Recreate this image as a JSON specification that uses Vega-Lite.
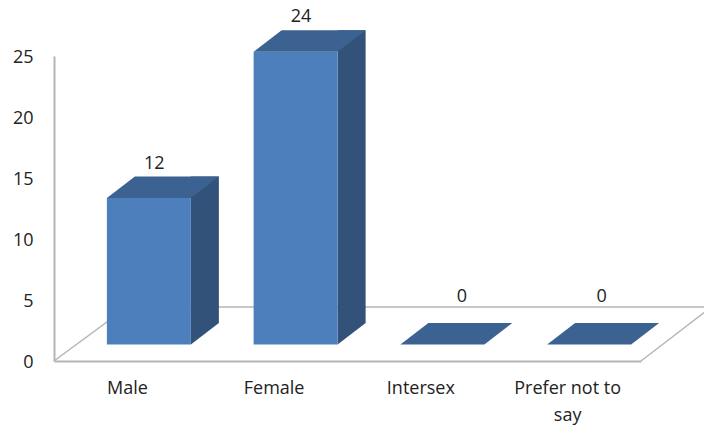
{
  "$schema": "https://vega.github.io/schema/vega-lite/v6.json",
  "width": 587,
  "height": 305,
  "autosize": {"type": "none"},
  "padding": {"left": 54, "top": 56, "right": 63, "bottom": 68},
  "background": "white",
  "view": {"stroke": null},
  "data": {
    "values": [
      {"category": "Male", "count": 12},
      {"category": "Female", "count": 24},
      {"category": "Intersex", "count": 0},
      {"category": "Prefer not to say", "count": 0}
    ]
  },
  "encoding": {
    "x": {
      "field": "category",
      "type": "nominal",
      "sort": null,
      "title": null,
      "scale": {"type": "band", "paddingInner": 0, "paddingOuter": 0},
      "axis": {
        "labelAngle": 0,
        "ticks": false,
        "domainColor": "#B5B5B5",
        "domainWidth": 2,
        "labelFont": "Open Sans",
        "labelFontSize": 18,
        "labelColor": "#222222",
        "labelPadding": 18,
        "labelLineHeight": 27,
        "labelBaseline": "top",
        "labelLimit": 0,
        "labelExpr": "datum.label == 'Prefer not to say' ? ['Prefer not to', 'say'] : datum.label"
      }
    }
  },
  "layer": [
    {
      "description": "Chart floor drawn behind the columns",
      "transform": [{"filter": "datum.category == 'Male'"}],
      "mark": {
        "type": "point",
        "shape": "M-73.4,0L0,-54L584,-54L513.6,0",
        "size": 4,
        "filled": false,
        "opacity": 1,
        "stroke": "#B5B5B5",
        "strokeWidth": 1.5
      },
      "encoding": {
        "y": {
          "datum": 0,
          "type": "quantitative",
          "title": null,
          "scale": {"domain": [0, 25], "nice": false},
          "axis": {
            "values": [0, 5, 10, 15, 20, 25],
            "ticks": false,
            "grid": false,
            "title": null,
            "domainColor": "#B5B5B5",
            "domainWidth": 2,
            "labelFont": "Open Sans",
            "labelFontSize": 18,
            "labelColor": "#222222",
            "labelPadding": 21,
            "labelOffset": 1
          }
        }
      }
    },
    {
      "description": "Bottom corner of the side faces",
      "transform": [{"filter": "datum.count > 0"}],
      "mark": {
        "type": "point",
        "shape": "M42,0L70,-21.5L42,-21.5Z",
        "size": 4,
        "filled": true,
        "opacity": 1,
        "color": "#325279",
        "xOffset": 21.5,
        "yOffset": -16.5
      },
      "encoding": {"y": {"datum": 0, "type": "quantitative", "title": null}}
    },
    {
      "description": "Side faces",
      "transform": [{"filter": "datum.count > 0"}],
      "mark": {
        "type": "bar",
        "width": 28,
        "color": "#325279",
        "xOffset": 77.5,
        "yOffset": -38,
        "y2Offset": -38
      },
      "encoding": {
        "y": {"field": "count", "type": "quantitative", "title": null},
        "y2": {"datum": 0}
      }
    },
    {
      "description": "Front faces",
      "transform": [{"filter": "datum.count > 0"}],
      "mark": {
        "type": "bar",
        "width": 84,
        "color": "#4D7FBC",
        "xOffset": 21.5,
        "yOffset": -16.5,
        "y2Offset": -16.5
      },
      "encoding": {
        "y": {"field": "count", "type": "quantitative", "title": null},
        "y2": {"datum": 0}
      }
    },
    {
      "description": "Top faces",
      "mark": {
        "type": "point",
        "shape": "M-42,0L42,0L70,-21.5L-14,-21.5Z",
        "size": 4,
        "filled": true,
        "opacity": 1,
        "color": "#3C6291",
        "xOffset": 21.5,
        "yOffset": -16.5
      },
      "encoding": {"y": {"field": "count", "type": "quantitative", "title": null}}
    },
    {
      "description": "Value labels on the non-zero columns",
      "transform": [{"filter": "datum.count > 0"}],
      "mark": {
        "type": "text",
        "font": "Open Sans",
        "fontSize": 18,
        "color": "#222222",
        "dx": 27,
        "dy": -51
      },
      "encoding": {
        "y": {"field": "count", "type": "quantitative", "title": null},
        "text": {"field": "count", "type": "quantitative"}
      }
    },
    {
      "description": "Value label for Intersex",
      "transform": [{"filter": "datum.category == 'Intersex'"}],
      "mark": {
        "type": "text",
        "font": "Open Sans",
        "fontSize": 18,
        "color": "#222222",
        "dx": 41,
        "dy": -64
      },
      "encoding": {
        "y": {"field": "count", "type": "quantitative", "title": null},
        "text": {"field": "count", "type": "quantitative"}
      }
    },
    {
      "description": "Value label for Prefer not to say",
      "transform": [{"filter": "datum.category == 'Prefer not to say'"}],
      "mark": {
        "type": "text",
        "font": "Open Sans",
        "fontSize": 18,
        "color": "#222222",
        "dx": 34,
        "dy": -64
      },
      "encoding": {
        "y": {"field": "count", "type": "quantitative", "title": null},
        "text": {"field": "count", "type": "quantitative"}
      }
    }
  ]
}
